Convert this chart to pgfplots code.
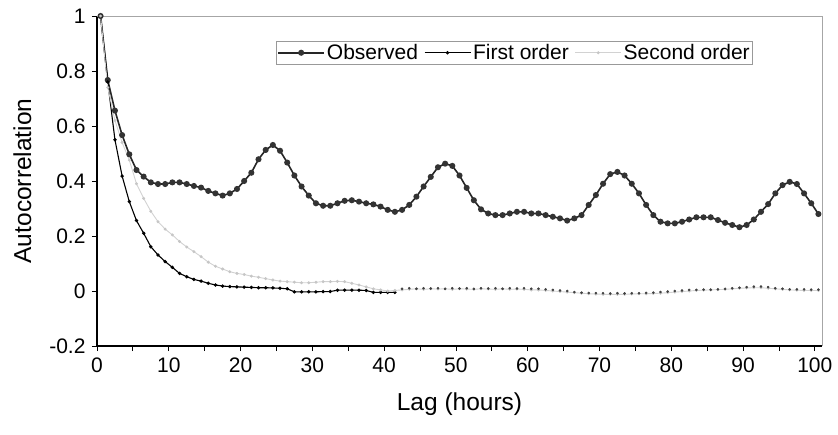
\documentclass[border=0pt]{standalone}
\usepackage{pgfplots}
\usepackage{pgfplotstable}
\pgfplotsset{compat=1.18}
\usepackage{fontspec}
\setmainfont{Liberation Sans}

\pgfplotstableread{
lag obs first second
0 1.000 1.000 1.000
1 0.767 0.760 0.740
2 0.656 0.550 0.620
3 0.567 0.418 0.540
4 0.497 0.325 0.476
5 0.440 0.256 0.390
6 0.416 0.210 0.337
7 0.395 0.161 0.290
8 0.389 0.131 0.252
9 0.389 0.107 0.225
10 0.395 0.086 0.204
11 0.395 0.064 0.180
12 0.389 0.052 0.160
13 0.382 0.042 0.143
14 0.376 0.036 0.125
15 0.364 0.028 0.105
16 0.355 0.022 0.090
17 0.347 0.018 0.080
18 0.355 0.016 0.070
19 0.371 0.015 0.064
20 0.400 0.014 0.060
21 0.430 0.013 0.054
22 0.479 0.012 0.050
23 0.513 0.012 0.045
24 0.531 0.011 0.040
25 0.510 0.010 0.036
26 0.467 0.008 0.034
27 0.420 -0.003 0.032
28 0.380 -0.003 0.030
29 0.347 -0.003 0.030
30 0.319 -0.003 0.032
31 0.310 -0.002 0.034
32 0.310 -0.002 0.034
33 0.319 0.003 0.035
34 0.328 0.003 0.034
35 0.330 0.003 0.028
36 0.325 0.003 0.022
37 0.319 0.002 0.015
38 0.315 -0.005 0.008
39 0.307 -0.005 0.004
40 0.295 -0.005 0.000
41 0.288 -0.005 0.002
42 0.295 0.008 0.004
43 0.313 0.010 0.006
44 0.343 0.008 0.008
45 0.380 0.010 0.006
46 0.415 0.009 0.008
47 0.450 0.010 0.007
48 0.463 0.008 0.008
49 0.455 0.010 0.006
50 0.420 0.009 0.008
51 0.375 0.010 0.007
52 0.330 0.008 0.006
53 0.297 0.010 0.008
54 0.282 0.009 0.007
55 0.276 0.010 0.006
56 0.276 0.008 0.008
57 0.282 0.010 0.006
58 0.288 0.009 0.007
59 0.288 0.010 0.006
60 0.282 0.008 0.004
61 0.282 0.008 0.004
62 0.276 0.006 0.002
63 0.270 0.004 0.000
64 0.264 0.002 -0.002
65 0.256 0.000 -0.004
66 0.264 -0.004 -0.006
67 0.276 -0.006 -0.008
68 0.313 -0.007 -0.010
69 0.349 -0.008 -0.011
70 0.390 -0.008 -0.012
71 0.425 -0.009 -0.012
72 0.433 -0.008 -0.012
73 0.420 -0.009 -0.012
74 0.390 -0.008 -0.011
75 0.355 -0.008 -0.010
76 0.313 -0.007 -0.010
77 0.276 -0.006 -0.009
78 0.252 -0.004 -0.008
79 0.246 -0.002 -0.006
80 0.246 0.000 -0.004
81 0.252 0.002 -0.002
82 0.260 0.004 0.000
83 0.268 0.004 0.002
84 0.268 0.005 0.003
85 0.268 0.005 0.004
86 0.258 0.006 0.005
87 0.248 0.008 0.006
88 0.240 0.010 0.008
89 0.232 0.012 0.010
90 0.240 0.014 0.011
91 0.260 0.016 0.012
92 0.288 0.016 0.012
93 0.316 0.014 0.010
94 0.355 0.010 0.008
95 0.385 0.008 0.006
96 0.397 0.006 0.004
97 0.389 0.006 0.003
98 0.355 0.006 0.002
99 0.319 0.005 0.002
100 0.280 0.005 0.002
}\datatable

\begin{document}
\begin{tikzpicture}
\useasboundingbox (-97pt,-88pt) rectangle (741pt,346pt);
\begin{axis}[
  scale only axis,
  width=725pt, height=330pt,
  xmin=0, xmax=101,
  ymin=-0.2, ymax=1,
  axis x line*=bottom,
  axis y line*=left,
  axis line style={black, line width=1.1pt},
  xtick={0,10,...,100},
  xticklabels={0,10,20,30,40,50,60,70,80,90,100},
  minor xtick={5,15,...,95},
  ytick={-0.2,0,0.2,0.4,0.6,0.8,1},
  yticklabels={-0.2,0,0.2,0.4,0.6,0.8,1},
  tick align=outside,
  major tick length=5pt,
  minor tick length=5pt,
  tick style={black, line width=0.8pt},
  ticklabel style={font=\fontsize{21}{24}\selectfont},
  xticklabel style={yshift=-3pt},
  yticklabel style={xshift=-3pt},
  xlabel={Lag (hours)},
  ylabel={Autocorrelation},
  label style={font=\fontsize{24.5}{28}\selectfont},
  xlabel style={at={(axis description cs:0.5,-0.175)}, anchor=center},
  ylabel style={at={(axis description cs:-0.103,0.5)}, anchor=center, rotate=0},
  clip=false,
  legend columns=3,
  legend style={at={(axis description cs:0.247,0.924)}, anchor=north west,
    draw=gray!80, line width=0.6pt, inner sep=1pt,
    font=\fontsize{21}{24}\selectfont,
    /tikz/every even column/.append style={column sep=4pt}},
  legend cell align=left,
  legend image code/.code={\draw[mark repeat=2, mark phase=2, #1] plot coordinates {(0pt,0pt) (23pt,0pt) (46pt,0pt)};},
]
\addplot[black!85, line width=1.6pt, mark=*, mark size=2.2pt, mark options={fill=black!80, draw=black!80}]
  table[x expr=\thisrow{lag}+0.5, y=obs] {\datatable};
\addlegendentry{Observed}
\addplot[black, line width=1.1pt, mark=*, mark size=1.1pt, restrict x to domain=0:42]
  table[x expr=\thisrow{lag}+0.5, y=first] {\datatable};
\addlegendentry{First order}
\addplot[gray!35, line width=0.9pt, mark=*, mark size=1pt, mark options={gray!45}]
  table[x expr=\thisrow{lag}+0.5, y=second] {\datatable};
\addlegendentry{Second order}
\addplot[only marks, black!75, mark=*, mark size=1.1pt, restrict x to domain=42:102, forget plot]
  table[x expr=\thisrow{lag}+0.5, y=first] {\datatable};
\draw[gray!70, line width=0.8pt] (rel axis cs:0,1) -- (rel axis cs:1,1) -- (rel axis cs:1,0);
\end{axis}
\end{tikzpicture}
\end{document}
